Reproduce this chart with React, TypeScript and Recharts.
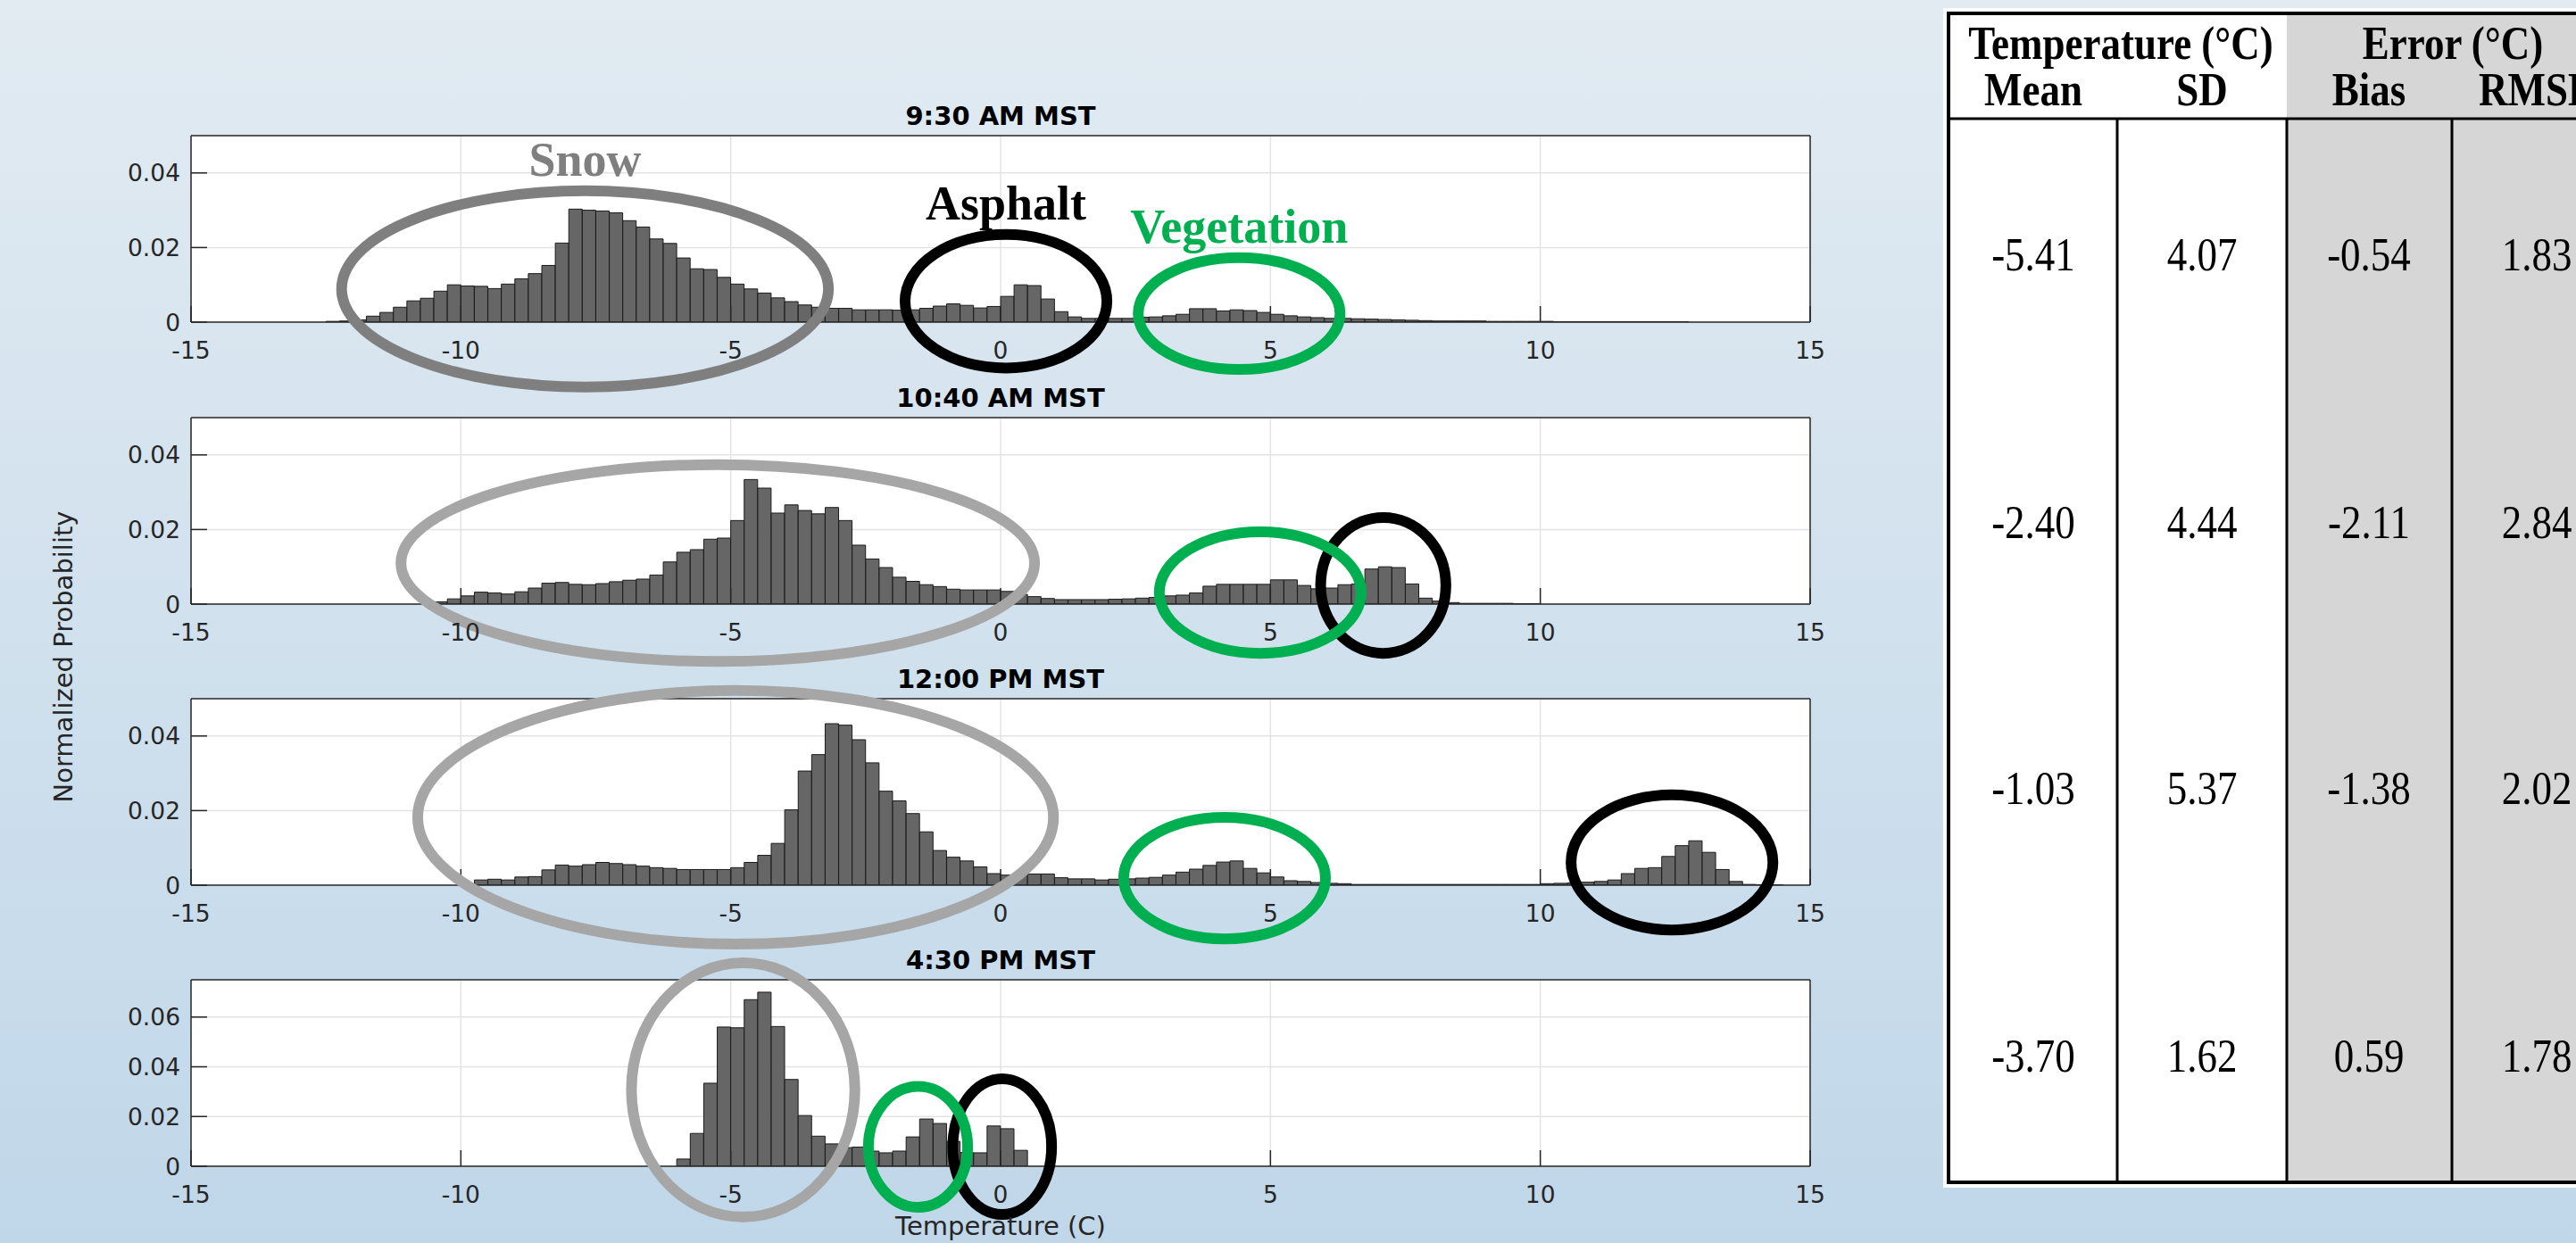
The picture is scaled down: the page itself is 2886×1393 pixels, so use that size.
import React from "react";
import { BarChart, Bar, XAxis, YAxis, CartesianGrid, ReferenceDot } from "recharts";

// histogram bins: 0.25 °C wide between -15 and 15
const BIN_START = -15;
const BIN_WIDTH = 0.25;
const BIN_COUNT = 120;
const X_TICKS = [-15, -10, -5, 0, 5, 10, 15];
const Y_TICKS_LOW = [0, 0.02, 0.04];
const Y_TICKS_HIGH = [0, 0.02, 0.04, 0.06];

// normalized probability per bin, listed from the first non-empty bin
const am930From = -12.5;
const am930 = [
  0.0002, 0.0003, 0.0006, 0.0016, 0.0026, 0.004, 0.0057, 0.0064, 0.0083, 0.01,
  0.0097, 0.0096, 0.009, 0.0102, 0.0116, 0.013, 0.0152, 0.0212, 0.0303, 0.03,
  0.0298, 0.0293, 0.0272, 0.0255, 0.0223, 0.0211, 0.0172, 0.0143, 0.0141, 0.012,
  0.0102, 0.0089, 0.0078, 0.0065, 0.0055, 0.0046, 0.004, 0.0037, 0.0037, 0.0033,
  0.0033, 0.0033, 0.0032, 0.0033, 0.0037, 0.0043, 0.0049, 0.0045, 0.0038, 0.0042,
  0.0069, 0.01, 0.0098, 0.0062, 0.0028, 0.0014, 0.001, 0.001, 0.001, 0.001,
  0.0013, 0.0014, 0.0017, 0.0021, 0.0036, 0.0036, 0.003, 0.0033, 0.0031, 0.0026,
  0.0021, 0.0017, 0.0014, 0.0012, 0.001, 0.001, 0.0009, 0.0008, 0.0007, 0.0006,
  0.0005, 0.0004, 0.0003, 0.0003, 0.0003, 0.0003, 0.0002, 0.0002, 0.0002, 0.0002,
  0.0002, 0.0001, 0.0001, 0.0001, 0.0001, 0.0001, 0.0001, 0.0001, 0.0001, 0.0001, 0.0001,
];

const am1040From = -10.5;
const am1040 = [
  0.0006, 0.0014,
  0.0022, 0.0032, 0.003, 0.0027, 0.0033, 0.0043, 0.0056, 0.0058, 0.0053, 0.0052,
  0.0055, 0.006, 0.0064, 0.0067, 0.0078, 0.0113, 0.0139, 0.0146, 0.0174, 0.0177,
  0.0224, 0.0334, 0.0311, 0.0244, 0.0266, 0.0251, 0.0242, 0.0259, 0.0224, 0.0158,
  0.0121, 0.0098, 0.0072, 0.0061, 0.0052, 0.0047, 0.004, 0.0038, 0.0038, 0.0038,
  0.0034, 0.0026, 0.002, 0.0015, 0.0012, 0.0012, 0.0012, 0.0012, 0.0013, 0.0014,
  0.0016, 0.0018, 0.0022, 0.0024, 0.003, 0.0048, 0.0053, 0.0053, 0.0053, 0.0053,
  0.0065, 0.0065, 0.005, 0.0041, 0.0043, 0.0052, 0.0054, 0.0094, 0.01, 0.0098,
  0.0054, 0.0016, 0.0008, 0.0004, 0.0002, 0.0002, 0.0002, 0.0002, 0.0001, 0.0001,
];

const pm1200From = -9.75;
const pm1200 = [
  0.0014, 0.0016, 0.0014, 0.0022, 0.0023, 0.0041, 0.0054, 0.0051, 0.0055,
  0.0061, 0.0058, 0.0055, 0.0051, 0.0047, 0.0045, 0.0042, 0.0042, 0.0042, 0.0042,
  0.0047, 0.0061, 0.008, 0.0112, 0.0202, 0.0306, 0.035, 0.0433, 0.0429, 0.039,
  0.0328, 0.0252, 0.0226, 0.0192, 0.0143, 0.0093, 0.0075, 0.0065, 0.0049, 0.0031,
  0.0027, 0.0029, 0.003, 0.003, 0.002, 0.0017, 0.0017, 0.0014, 0.0016, 0.0017,
  0.0019, 0.0021, 0.0027, 0.0035, 0.0043, 0.0053, 0.0062, 0.0065, 0.0045, 0.0033,
  0.0022, 0.0012, 0.001, 0.0007, 0.0005, 0.0004, 0.0002, 0.0002, 0.0002, 0.0002,
  0.0002, 0.0002, 0.0002, 0.0002, 0.0002, 0.0002, 0.0002, 0.0002, 0.0002, 0.0002,
  0.0004, 0.0005, 0.0006, 0.0008, 0.001, 0.0014, 0.0031, 0.0045, 0.0047, 0.0077,
  0.0106, 0.0119, 0.0088, 0.0042, 0.001, 0.0002, 0.0001, 0.0001,
];

const pm430From = -6;
const pm430 = [
  0.0029, 0.0132, 0.0334, 0.056,
  0.0557, 0.067, 0.07, 0.0562, 0.0349, 0.0204, 0.0121, 0.009, 0.0075, 0.0077,
  0.0061, 0.0054, 0.0061, 0.0118, 0.019, 0.0172, 0.01, 0.0055, 0.0054, 0.0162,
  0.0151, 0.0064,
];

// circled clusters, in data units (°C, probability)
const am930Marks = [
  { kind: "snow", label: "Snow", cx: -7.7, cy: 0.0089, rx: 4.51, ry: 0.0263 },
  { kind: "asphalt", label: "Asphalt", cx: 0.1, cy: 0.0056, rx: 1.87, ry: 0.0179 },
  { kind: "vegetation", label: "Vegetation", cx: 4.42, cy: 0.0023, rx: 1.87, ry: 0.015 },
];
const am1040Marks = [
  { kind: "snow", cx: -5.24, cy: 0.011, rx: 5.87, ry: 0.0264 },
  { kind: "asphalt", cx: 7.09, cy: 0.005, rx: 1.16, ry: 0.0182 },
  { kind: "vegetation", cx: 4.81, cy: 0.0031, rx: 1.87, ry: 0.0163 },
];
const pm1200Marks = [
  { kind: "snow", cx: -4.91, cy: 0.0182, rx: 5.89, ry: 0.034 },
  { kind: "asphalt", cx: 12.44, cy: 0.0061, rx: 1.87, ry: 0.0181 },
  { kind: "vegetation", cx: 4.15, cy: 0.0019, rx: 1.87, ry: 0.0163 },
];
const pm430Marks = [
  { kind: "snow", cx: -4.77, cy: 0.0307, rx: 2.07, ry: 0.0511 },
  { kind: "asphalt", cx: 0.03, cy: 0.0079, rx: 0.915, ry: 0.0273 },
  { kind: "vegetation", cx: -1.53, cy: 0.0078, rx: 0.92, ry: 0.0243 },
];

// table on the right
const tableMean = [-5.41, -2.4, -1.03, -3.7];
const tableSD = [4.07, 4.44, 5.37, 1.62];
const tableBias = [-0.54, -2.11, -1.38, 0.59];
const tableRMSE = [1.83, 2.84, 2.02, 1.78];

// layout
const CHART_W = 2100;
const CHART_H = 480;
const MARGIN = { top: 139, right: 71, bottom: 71, left: 114 };
const PLOT_LEFT = 214;
const PLOT_W = 1814;
const PLOT_H = 209;
const PLOT_OFFSET = 140;
const PX_PER_DEG = PLOT_W / 30;
const AXIS = "#262626";
const SANS = "DejaVu Sans, sans-serif";
const SERIF = "Liberation Serif, Times New Roman, serif";

const panels = [
  { title: "9:30 AM MST", from: am930From, values: am930, yMax: 0.05, yTicks: Y_TICKS_LOW, marks: am930Marks, top: 152, snow: "#7f7f7f" },
  { title: "10:40 AM MST", from: am1040From, values: am1040, yMax: 0.05, yTicks: Y_TICKS_LOW, marks: am1040Marks, top: 468, snow: "#a6a6a6" },
  { title: "12:00 PM MST", from: pm1200From, values: pm1200, yMax: 0.05, yTicks: Y_TICKS_LOW, marks: pm1200Marks, top: 783, snow: "#a6a6a6" },
  { title: "4:30 PM MST", from: pm430From, values: pm430, yMax: 0.075, yTicks: Y_TICKS_HIGH, marks: pm430Marks, top: 1098, snow: "#a6a6a6" },
];

function buildRows(from: number, values: number[]) {
  const first = Math.round((from - BIN_START) / BIN_WIDTH);
  const rows = [];
  for (let i = 0; i < BIN_COUNT; i++) {
    const v = values[i - first];
    rows.push({ bin: i, x: BIN_START + BIN_WIDTH * (i + 0.5), v: v === undefined ? 0 : v });
  }
  return rows;
}

const XTick = (props: any) => (
  <text x={props.x} y={props.y} dy="0.73em" textAnchor="middle" fontFamily={SANS} fontSize={26.5} fill={AXIS}>
    {props.payload.value}
  </text>
);

const YTick = (props: any) => (
  <text x={props.x} y={props.y} dy="0.36em" textAnchor="end" fontFamily={SANS} fontSize={26.5} fill={AXIS}>
    {props.payload.value}
  </text>
);

function markShape(mark: any, pxPerProb: number, color: string) {
  return (props: any) => {
    const rx = mark.rx * PX_PER_DEG;
    const ry = mark.ry * pxPerProb;
    return (
      <g>
        <ellipse cx={props.cx} cy={props.cy} rx={rx} ry={ry} fill="none" stroke={color} strokeWidth={12} />
        {mark.label && (
          <text
            x={props.cx}
            y={props.cy - ry - 17}
            textAnchor="middle"
            fontFamily={SERIF}
            fontWeight="bold"
            fontSize={54}
            fill={color}
          >
            {mark.label}
          </text>
        )}
      </g>
    );
  };
}

function Panel({ panel }: { panel: any }) {
  const data = buildRows(panel.from, panel.values);
  const pxPerProb = PLOT_H / panel.yMax;
  const colors: any = { snow: panel.snow, asphalt: "#000000", vegetation: "#00b050" };
  const line = { stroke: AXIS, strokeWidth: 1.5 };
  return (
    <div style={{ position: "absolute", left: 0, top: panel.top - PLOT_OFFSET }}>
      <BarChart width={CHART_W} height={CHART_H} data={data} margin={MARGIN} barCategoryGap={0} barGap={0}>
        <CartesianGrid xAxisId="num" yAxisId="y" stroke="#e3e3e3" strokeWidth={1.5} fill="#ffffff" />
        <XAxis
          xAxisId="num"
          type="number"
          dataKey="x"
          domain={[-15, 15]}
          ticks={X_TICKS}
          allowDataOverflow
          interval={0}
          height={60}
          tickSize={-18}
          tickMargin={40}
          axisLine={line}
          tickLine={line}
          tick={(p: any) => <XTick {...p} />}
        />
        <XAxis xAxisId="cat" dataKey="bin" hide height={0} />
        <XAxis
          xAxisId="top"
          orientation="top"
          type="number"
          dataKey="x"
          domain={[-15, 15]}
          ticks={X_TICKS}
          allowDataOverflow
          interval={0}
          height={1}
          tickSize={-18}
          axisLine={line}
          tickLine={line}
          tick={false}
        />
        <YAxis
          yAxisId="y"
          domain={[0, panel.yMax]}
          ticks={panel.yTicks}
          allowDataOverflow
          interval={0}
          width={100}
          tickSize={-18}
          tickMargin={30}
          axisLine={line}
          tickLine={line}
          tick={(p: any) => <YTick {...p} />}
        />
        <YAxis
          yAxisId="yr"
          orientation="right"
          dataKey="v"
          domain={[0, panel.yMax]}
          ticks={panel.yTicks}
          allowDataOverflow
          interval={0}
          width={1}
          tickSize={-18}
          axisLine={line}
          tickLine={line}
          tick={false}
        />
        <Bar
          dataKey="v"
          xAxisId="cat"
          yAxisId="y"
          fill="#666666"
          stroke="#1a1a1a"
          strokeWidth={1}
          isAnimationActive={false}
        />
        {panel.marks.map((m: any, i: number) => (
          <ReferenceDot
            key={i}
            x={m.cx}
            y={m.cy}
            xAxisId="num"
            yAxisId="y"
            ifOverflow="visible"
            shape={markShape(m, pxPerProb, colors[m.kind])}
          />
        ))}
      </BarChart>
    </div>
  );
}

function fmt(v: number) {
  return v.toFixed(2);
}

function StatsTable() {
  const colX = [2278, 2467, 2654, 2842];
  const rowY = [285, 585, 883, 1183];
  const columns = [tableMean, tableSD, tableBias, tableRMSE];
  const heads = ["Mean", "SD", "Bias", "RMSE"];
  const stretch = (x: number, y: number) => `translate(${x} ${y}) scale(1 1.18)`;
  return (
    <g>
      <rect x={2177} y={9} width={800} height={1322} fill="#ffffff" />
      <rect x={2183} y={15} width={800} height={1310} fill="#ffffff" stroke="#000" strokeWidth={4} />
      <rect x={2562} y={17} width={400} height={1306} fill="#d6d6d6" />
      <line x1={2185} x2={2990} y1={133} y2={133} stroke="#000" strokeWidth={3} />
      {[2372, 2562, 2747].map((x) => (
        <line key={x} x1={x} x2={x} y1={133} y2={1325} stroke="#000" strokeWidth={3} />
      ))}
      <g fontFamily={SERIF} fontWeight="bold" fontSize={45} fill="#000" textAnchor="middle">
        <text transform={stretch(2376, 66)}>Temperature (°C)</text>
        <text transform={stretch(2748, 66)}>Error (°C)</text>
        {heads.map((h, i) => (
          <text key={h} transform={stretch(colX[i], 118)}>{h}</text>
        ))}
      </g>
      <g fontFamily={SERIF} fontSize={45} fill="#000" textAnchor="middle">
        {columns.map((col, c) =>
          col.map((v, r) => (
            <text key={`${c}-${r}`} transform={stretch(colX[c], rowY[r] + 18)}>{fmt(v)}</text>
          ))
        )}
      </g>
    </g>
  );
}

export default function App() {
  const center = PLOT_LEFT + PLOT_W / 2;
  return (
    <div
      style={{
        position: "absolute",
        left: 0,
        top: 0,
        width: 2886,
        height: 1393,
        overflow: "hidden",
        background: "linear-gradient(180deg, #e2ebf2 0%, #c0d7e9 100%)",
      }}
    >
      {panels.map((p) => (
        <Panel key={p.title} panel={p} />
      ))}
      <svg width={2886} height={1393} style={{ position: "absolute", left: 0, top: 0, pointerEvents: "none" }}>
        {panels.map((p) => (
          <text
            key={p.title}
            x={center}
            y={p.top - 12}
            textAnchor="middle"
            fontFamily={SANS}
            fontWeight="bold"
            fontSize={29}
            fill="#000"
          >
            {p.title}
          </text>
        ))}
        <text transform="translate(81 736) rotate(-90)" textAnchor="middle" fontFamily={SANS} fontSize={29} fill={AXIS}>
          Normalized Probability
        </text>
        <text x={center} y={1384} textAnchor="middle" fontFamily={SANS} fontSize={29} fill={AXIS}>
          Temperature (C)
        </text>
        <StatsTable />
      </svg>
    </div>
  );
}
